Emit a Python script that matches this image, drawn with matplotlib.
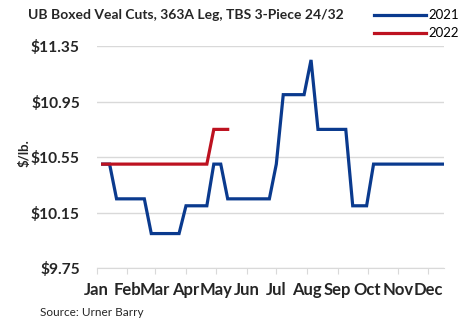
import datetime as dt
import matplotlib
matplotlib.use("Agg")
import matplotlib.pyplot as plt
import matplotlib.ticker as mticker

# weekly quotes (Thursdays), $/lb
first_week = dt.date(2021, 1, 7)
prices_2021 = [10.50, 10.50,
               10.25, 10.25, 10.25, 10.25, 10.25,
               10.00, 10.00, 10.00, 10.00, 10.00,
               10.20, 10.20, 10.20, 10.20,
               10.50, 10.50,
               10.25, 10.25, 10.25, 10.25, 10.25, 10.25, 10.25,
               10.50,
               11.00, 11.00, 11.00, 11.00,
               11.25,
               10.75, 10.75, 10.75, 10.75, 10.75,
               10.20, 10.20, 10.20,
               10.50, 10.50, 10.50, 10.50, 10.50, 10.50, 10.50, 10.50, 10.50, 10.50, 10.50]
prices_2022 = [10.50] * 16 + [10.75, 10.75, 10.75]

months = ["Jan", "Feb", "Mar", "Apr", "May", "Jun", "Jul", "Aug", "Sep", "Oct", "Nov", "Dec"]
y_ticks = [9.75, 10.15, 10.55, 10.95, 11.35]

weeks_2021 = [first_week + dt.timedelta(days=7 * i) for i in range(len(prices_2021))]
weeks_2022 = weeks_2021[:len(prices_2022)]  # 2022 drawn over the same calendar

plt.rcParams['font.family'] = ['Lato', 'DejaVu Sans']

fig = plt.figure(figsize=(4.71, 3.22), dpi=100)
ax = fig.add_axes([0.2053, 0.1668, 0.7374, 0.6902])

ax.plot(weeks_2021, prices_2021, color='#0a3a8e', lw=2.3, label='2021', solid_joinstyle='miter', zorder=3)
ax.plot(weeks_2022, prices_2022, color='#bd1220', lw=2.3, label='2022', solid_joinstyle='miter', zorder=4)

ax.set_xlim(dt.date(2021, 1, 1), dt.date(2021, 12, 17))
ax.set_ylim(y_ticks[0], y_ticks[-1])
ax.set_yticks(y_ticks)
ax.yaxis.set_major_formatter(mticker.FuncFormatter(lambda v, p: "${:.2f}".format(v)))
ax.set_xticks([dt.date(2021, m, 1) for m in range(1, 13)])
ax.set_xticklabels(months)

ax.grid(axis='y', color='#d9d9d9', lw=1.0)
ax.set_axisbelow(True)
for s in ['top', 'right', 'left']:
    ax.spines[s].set_visible(False)
ax.spines['bottom'].set_color('#d9d9d9')
ax.tick_params(axis='y', length=0, pad=12, labelsize=11.2)
ax.tick_params(axis='x', length=4, color='#d9d9d9', pad=6, labelsize=12)
for lab in ax.get_xticklabels() + ax.get_yticklabels():
    lab.set_fontweight('bold')
    lab.set_color('#262626')

fig.text(0.053, 0.525, "$/lb.", rotation=90, fontsize=9.5, fontweight='bold', color='#262626',
         ha='center', va='center')
fig.text(0.06, 0.953, "UB Boxed Veal Cuts, 363A Leg, TBS 3-Piece 24/32", fontsize=10,
         fontweight='bold', color='#262626', ha='left', va='center')
fig.text(0.085, 0.028, "Source: Urner Barry", fontsize=8.5, color='#262626', ha='left', va='center')

fig.legend(loc='upper left', bbox_to_anchor=(0.775, 1.0), frameon=False, fontsize=9.5,
           handlelength=3.9, handletextpad=0.2, labelspacing=0.45, borderaxespad=0.3)

fig.savefig("out.png", dpi=100)
